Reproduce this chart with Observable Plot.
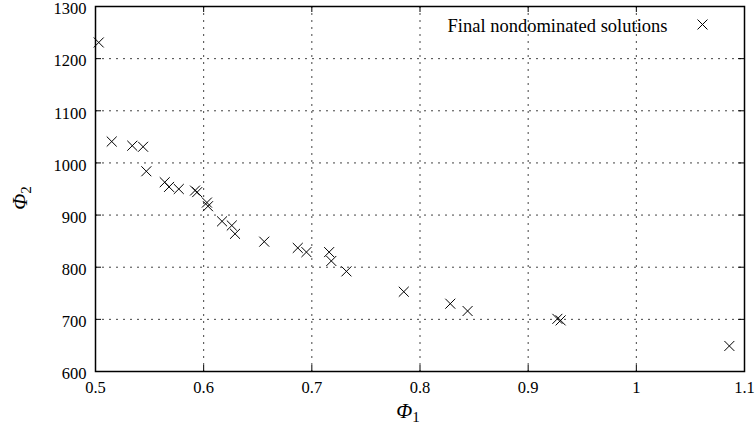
<!DOCTYPE html>
<html><head><meta charset="utf-8">
<script src="https://cdn.jsdelivr.net/npm/d3@7"></script>
<script src="https://cdn.jsdelivr.net/npm/@observablehq/plot@0.6"></script>
<style>body{margin:0;background:#fff;}</style>
</head><body><div id="chart"></div>
<script>
const phi1 = [0.503, 0.515, 0.534, 0.544, 0.547, 0.564, 0.568, 0.577, 0.592, 0.594, 0.603, 0.604, 0.617, 0.626, 0.629, 0.656, 0.687, 0.695, 0.716, 0.718, 0.732, 0.785, 0.828, 0.844, 0.927, 0.930, 1.086];
const phi2 = [1231, 1041, 1033, 1031, 984, 963, 954, 950, 947, 944, 924, 917, 888, 880, 864, 849, 837, 829, 829, 812, 792, 753, 730, 716, 701, 698, 649];
const xTicks = [0.5, 0.6, 0.7, 0.8, 0.9, 1.0, 1.1];
const xTickLabels = ["0.5", "0.6", "0.7", "0.8", "0.9", "1", "1.1"];
const yTicks = [600, 700, 800, 900, 1000, 1100, 1200, 1300];
const legendLabel = "Final nondominated solutions";
const xLabelMain = "\u03A6", xLabelSub = "1";
const yLabelMain = "\u03A6", yLabelSub = "2";

const data = phi1.map((x, i) => ({x, y: phi2[i]}));
const W = 756, H = 431, mL = 95, mR = 12, mT = 6, mB = 60;
const innerW = W - mL - mR, innerH = H - mT - mB;
const tickLen = 6;
const serif = "'Liberation Serif', 'Times New Roman', serif";
const gridStyle = {stroke: "#444", strokeOpacity: 1, strokeWidth: 1, strokeDasharray: "2,5"};

const chart = Plot.plot({
  width: W, height: H,
  marginLeft: mL, marginRight: mR, marginTop: mT, marginBottom: mB,
  style: {fontFamily: serif, fontSize: "16px", color: "black", background: "white", overflow: "visible"},
  x: {domain: [0.5, 1.1]},
  y: {domain: [600, 1300]},
  marks: [
    Plot.gridX(xTicks.slice(1, -1), gridStyle),
    Plot.gridY(yTicks.slice(1, -1), gridStyle),
    Plot.tickX(xTicks, {x: d => d, insetTop: innerH - tickLen, stroke: "black"}),
    Plot.tickX(xTicks, {x: d => d, insetBottom: innerH - tickLen, stroke: "black"}),
    Plot.tickY(yTicks, {y: d => d, insetRight: innerW - tickLen, stroke: "black"}),
    Plot.tickY(yTicks, {y: d => d, insetLeft: innerW - tickLen, stroke: "black"}),
    Plot.axisX(xTicks, {tickSize: 0, tickPadding: 10, label: null, fontFamily: serif, fontSize: 16.5, tickFormat: d => xTickLabels[xTicks.indexOf(d)]}),
    Plot.axisY(yTicks, {tickSize: 0, tickPadding: 9, label: null, fontFamily: serif, fontSize: 16.5, dy: 2.5, tickFormat: d => String(d)}),
    Plot.frame({stroke: "black", strokeWidth: 1.5}),
    Plot.dot(data, {x: "x", y: "y", symbol: "times", r: 4.6, stroke: "black", strokeWidth: 1}),
    Plot.text([legendLabel], {frameAnchor: "top-right", dx: -77, dy: 19.5, textAnchor: "end", lineAnchor: "middle", fontFamily: serif, fontSize: 18.5, fill: "black"}),
    Plot.dot([legendLabel], {frameAnchor: "top-right", dx: -42, dy: 18, symbol: "times", r: 4.6, stroke: "black", strokeWidth: 1})
  ]
});

const svg = d3.select(chart);
const xl = svg.append("text")
  .attr("x", 408).attr("y", 418)
  .attr("text-anchor", "middle")
  .style("font-family", serif).style("font-size", "21px").attr("fill", "black");
xl.append("tspan").style("font-style", "italic").text(xLabelMain);
xl.append("tspan").attr("dy", 4).style("font-size", "15px").text(xLabelSub);

const yl = svg.append("text")
  .attr("transform", "translate(27,198) rotate(-90)")
  .attr("text-anchor", "middle")
  .style("font-family", serif).style("font-size", "21px").attr("fill", "black");
yl.append("tspan").style("font-style", "italic").text(yLabelMain);
yl.append("tspan").attr("dy", 4).style("font-size", "15px").text(yLabelSub);

document.getElementById("chart").appendChild(chart);
</script>
</body></html>
